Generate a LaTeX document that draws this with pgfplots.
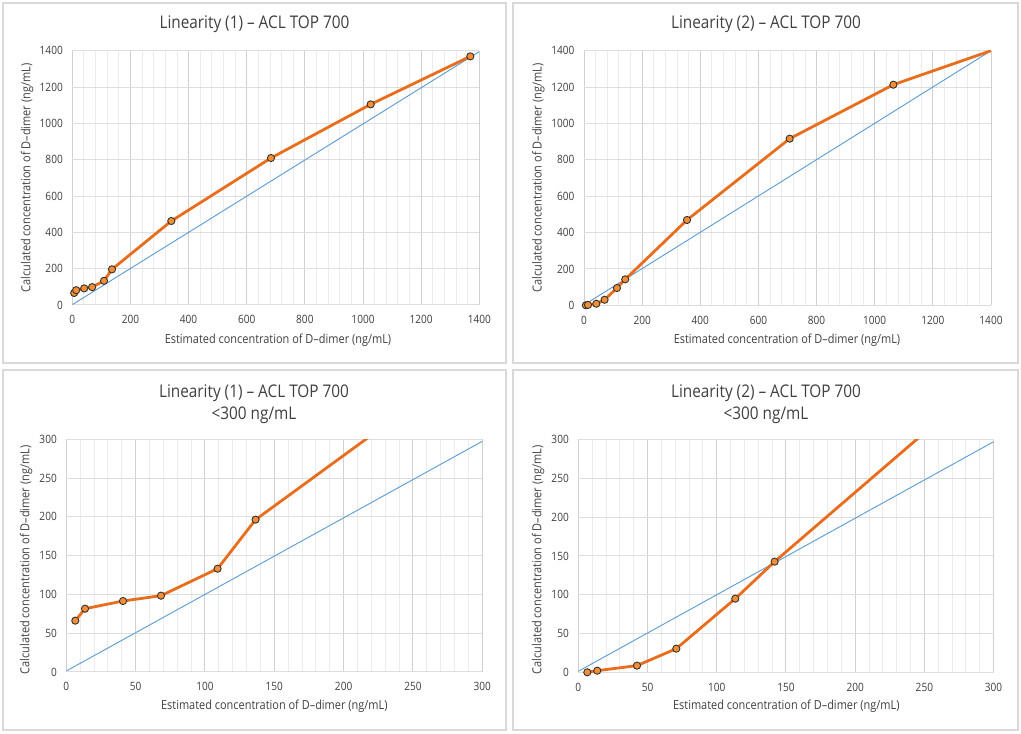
\documentclass[border=0pt]{standalone}
\usepackage{pgfplots}
\pgfplotsset{compat=1.18}
\usepackage{pgfplotstable}
\usepackage{fontspec}
\setmainfont{Open Sans}[FakeStretch=0.88]
\definecolor{lineor}{RGB}{232,110,30}
\definecolor{markor}{RGB}{245,142,52}
\definecolor{diag}{RGB}{91,155,213}
\definecolor{txt}{RGB}{64,64,64}
\definecolor{framec}{RGB}{217,217,217}
\definecolor{gmaj}{RGB}{208,208,208}
\definecolor{gy}{RGB}{222,222,222}
\definecolor{gmin}{RGB}{236,236,236}

\pgfplotstableread{
x y
6.5 66.2
13.5 81.6
40.9 91.5
68.3 98.4
109.1 133.2
136.5 196.4
340.6 462.4
683.4 809.2
1026.3 1104.6
1369.1 1368.8
}\dataA

\pgfplotstableread{
x y
6.5 0
13.7 2.1
42.4 8.6
70.8 30.5
113.4 95.0
141.8 142.7
354.3 469.1
707.5 916.2
1064.1 1213.1
1420 1411
}\dataB

\pgfplotsset{
  panel/.style={
    scale only axis,
    xmin=0, ymin=0,
    axis line style={draw=none},
    tick style={draw=none},
    grid=both,
    minor x tick num=4,
    major x grid style={draw=gmaj, line width=1bp},
    major y grid style={draw=gy, line width=1bp},
    minor x grid style={draw=gmin, line width=0.9bp},
    ticklabel style={font=\fontsize{11.5}{12}\selectfont, text=txt},
    xticklabel style={yshift=-7bp},
    yticklabel style={xshift=-6bp},
    /pgf/number format/assume math mode=true,
    /pgf/number format/set thousands separator={},
  },
  orline/.style={draw=lineor, line width=2.8bp, no markers},
  ormark/.style={only marks, mark=*, mark size=3.6bp, mark options={fill=markor, draw=black!80, line width=0.9bp}},
  diagline/.style={draw=diag, line width=0.9bp, no markers},
}

\begin{document}
\begin{tikzpicture}
\fill[white] (0,0) rectangle (1021bp,734bp);
\useasboundingbox (0,0) rectangle (1021bp,734bp);
% panel frames
\draw[framec, line width=1.2bp] (3bp,371bp) rectangle (506bp,731bp);
\draw[framec, line width=1.2bp] (513bp,371bp) rectangle (1018bp,731bp);
\draw[framec, line width=1.2bp] (3bp,4bp) rectangle (506bp,364bp);
\draw[framec, line width=1.2bp] (513bp,4bp) rectangle (1018bp,364bp);

% ---------- top left
\begin{axis}[panel, at={(72.3bp,429bp)}, anchor=south west,
  width=407bp, height=254.3bp, xmax=1400, ymax=1400,
  xtick={0,200,...,1400}, ytick={0,200,...,1400}]
\addplot[diagline] coordinates {(0,2) (1400,1395)};
\addplot[orline] table {\dataA};
\addplot[ormark, restrict x to domain=0:1400] table {\dataA};
\end{axis}

% ---------- top right
\begin{axis}[panel, at={(584bp,428.7bp)}, anchor=south west,
  width=407bp, height=254.6bp, xmax=1400, ymax=1400,
  xtick={0,200,...,1400}, ytick={0,200,...,1400}]
\addplot[diagline] coordinates {(0,2) (1400,1400)};
\addplot[orline] table {\dataB};
\addplot[ormark, restrict x to domain=0:1400] table {\dataB};
\end{axis}

% ---------- bottom left
\begin{axis}[panel, at={(66.3bp,62bp)}, anchor=south west,
  width=416bp, height=232.7bp, xmax=300, ymax=300,
  xtick={0,50,...,300}, ytick={0,50,...,300}]
\addplot[diagline] coordinates {(0,1.3) (300,297.4)};
\addplot[orline] table {\dataA};
\addplot[ormark, restrict x to domain=0:300] table {\dataA};
\end{axis}

% ---------- bottom right
\begin{axis}[panel, at={(578.3bp,61.7bp)}, anchor=south west,
  width=415.3bp, height=232.6bp, xmax=300, ymax=300,
  xtick={0,50,...,300}, ytick={0,50,...,300}]
\addplot[diagline] coordinates {(0,1.3) (300,297.4)};
\addplot[orline] table {\dataB};
\addplot[ormark, restrict x to domain=0:300] table {\dataB};
\end{axis}

% titles
\begin{scope}[every node/.style={text=txt, font=\fontsize{17.5}{22}\selectfont, align=center}]
\node at (254.5bp,710bp) {Linearity (1) – ACL TOP 700};
\node at (766bp,710bp) {Linearity (2) – ACL TOP 700};
\node at (254bp,330bp) {Linearity (1) – ACL TOP 700\\<300 ng/mL};
\node at (766bp,330bp) {Linearity (2) – ACL TOP 700\\<300 ng/mL};
\end{scope}

% axis labels
\begin{scope}[every node/.style={text=txt, font=\fontsize{12.5}{14}\selectfont}]
\node[rotate=90] at (27bp,556bp) {Calculated concentration of D–dimer (ng/mL)};
\node[rotate=90] at (538.3bp,556bp) {Calculated concentration of D–dimer (ng/mL)};
\node[rotate=90] at (26bp,174bp) {Calculated concentration of D–dimer (ng/mL)};
\node[rotate=90] at (538bp,174bp) {Calculated concentration of D–dimer  (ng/mL)};
\node at (278bp,394bp) {Estimated concentration of D–dimer (ng/mL)};
\node at (787bp,394bp) {Estimated concentration of D–dimer (ng/mL)};
\node at (274.3bp,28bp) {Estimated concentration of D–dimer (ng/mL)};
\node at (786.3bp,28bp) {Estimated concentration of D–dimer (ng/mL)};
\end{scope}
\end{tikzpicture}
\end{document}
